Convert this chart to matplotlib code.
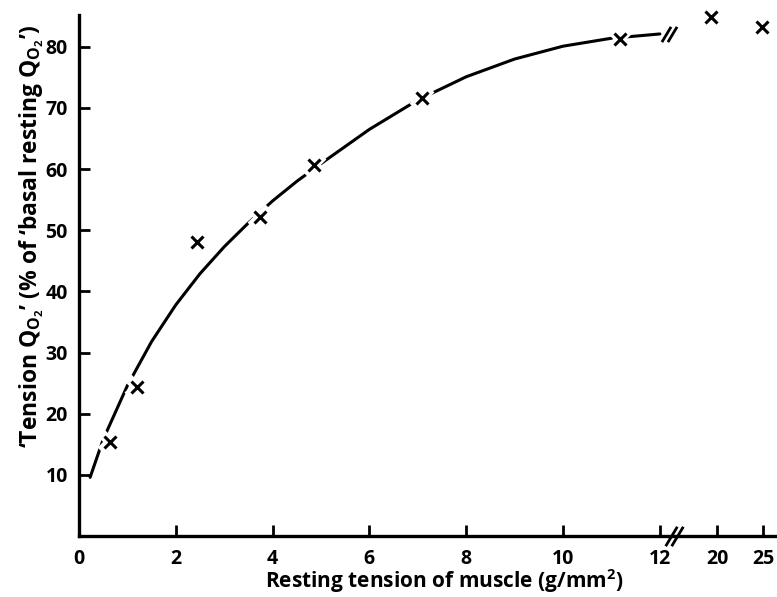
import matplotlib
matplotlib.use("Agg")
import matplotlib.pyplot as plt

plt.rcParams['font.family'] = ['Open Sans', 'DejaVu Sans']
plt.rcParams['font.weight'] = 'bold'
plt.rcParams['mathtext.fontset'] = 'custom'
plt.rcParams['mathtext.rm'] = 'Open Sans:bold'
plt.rcParams['mathtext.it'] = 'Open Sans:bold'
plt.rcParams['mathtext.bf'] = 'Open Sans:bold'

# measured points (resting tension g/mm2, tension QO2 %)
tension = [0.64, 1.19, 2.43, 3.74, 4.85, 7.09, 11.18, 19.3, 24.9]
qo2 = [15.4, 24.4, 48.1, 52.2, 60.7, 71.6, 81.3, 84.9, 83.3]

# hand-drawn curve
curve_x = [0.23, 0.5, 1.0, 1.5, 2.0, 2.5, 3.0, 3.5, 4.0, 4.5, 5.0,
           6.0, 7.0, 8.0, 9.0, 10.0, 11.0, 12.0]
curve_y = [9.6, 15.8, 24.6, 31.8, 37.8, 42.9, 47.3, 51.2, 54.8, 58.0, 60.9,
           66.5, 71.3, 75.1, 78.0, 80.1, 81.4, 82.1]

xticks = [2, 4, 6, 8, 10, 12, 20, 25]
yticks = [10, 20, 30, 40, 50, 60, 70, 80]


def pos(x):
    # broken axis: linear up to 12, compressed after 20
    return x if x <= 12 else 13.18 + (x - 20) * 0.19


fig = plt.figure(figsize=(7.77, 5.97), dpi=100)
ax = fig.add_axes([79 / 777, 1 - 536 / 597, 1 - 79 / 777, (536 - 15) / 597])

ax.plot([pos(v) for v in curve_x], curve_y, color='black', lw=2.2,
        solid_capstyle='round', solid_joinstyle='round', zorder=2)
ux = [pos(v) for v in tension]
ax.plot(ux, qo2, ls='none', marker='x', ms=13, mew=7, color='white',
        zorder=3, clip_on=False)
ax.plot(ux, qo2, ls='none', marker='x', ms=9, mew=2.2, color='black',
        zorder=4, clip_on=False)

# break marks on the axis and on the curve
brk = [(-0.6, -1), (0.6, 1)]
for bx in (12.22, 12.36):
    ax.plot([bx], [0], marker=brk, ms=14, mew=2, color='black',
            clip_on=False, zorder=5)
for bx in (12.12, 12.26):
    ax.plot([bx], [82.1], marker=brk, ms=11, mew=2, color='black', zorder=5)

ax.set_xlim(0, 14.42)
ax.set_ylim(0, 85.2)
ax.set_xticks([0] + [pos(v) for v in xticks])
ax.set_xticklabels(['0'] + [str(v) for v in xticks])
ax.set_yticks(yticks)
ax.tick_params(direction='in', length=8, width=2, labelsize=14, pad=8)
ax.tick_params(axis='x', pad=9)
for lbl in ax.get_xticklabels() + ax.get_yticklabels():
    lbl.set_fontweight('bold')
for s in ('top', 'right'):
    ax.spines[s].set_visible(False)
for s in ('left', 'bottom'):
    ax.spines[s].set_linewidth(2.4)

ax.set_xlabel('Resting tension of muscle (g/mm$^2$)', fontsize=15,
              fontweight='bold', va='baseline')
ax.xaxis.set_label_coords(0.524, -0.099)
ax.set_ylabel('\u2018Tension Q$_{O_2}$\u2019 (% of \u2018basal resting Q$_{O_2}$\u2019)',
              fontsize=16.5, fontweight='bold', va='center')
ax.yaxis.set_label_coords(-0.068, 0.574)

fig.savefig('out.png', dpi=100)
